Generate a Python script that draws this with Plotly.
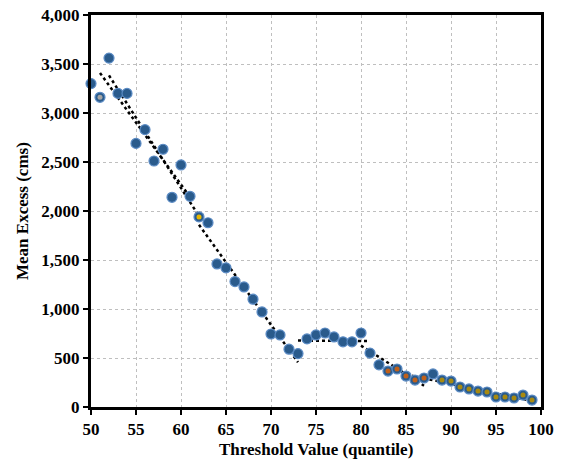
import numpy as np
import plotly.graph_objects as go

# Data
threshold = list(range(50, 100))
mean_excess = [3300, 3160, 3560, 3200, 3200, 2690, 2830, 2510, 2630, 2140,
               2470, 2150, 1940, 1880, 1460, 1420, 1280, 1225, 1100, 970,
               745, 735, 590, 545, 695, 735, 755, 715, 665, 665,
               755, 550, 430, 367, 388, 316, 275, 296, 337, 275,
               265, 204, 184, 163, 153, 102, 102, 92, 122, 71]

# inner marker colour groups (overlay series)
inner_groups = {
    "gray": [51],
    "yellow": [62],
    "orange": [83, 84, 85, 86, 87],
    "olive": [89, 90, 91, 92, 93, 94, 95, 96, 97, 98, 99],
}
inner_colors = {"gray": "#A6A6A6", "yellow": "#E8B800", "orange": "#C0601A", "olive": "#A88A10"}

# ranges over which linear trendlines are fitted
trend_ranges = [(51, 61), (52, 62), (62, 73), (73, 81), (80, 87), (85, 99)]

x_ticks = list(range(50, 101, 5))
y_ticks = list(range(0, 4001, 500))
x_title = "Threshold Value (quantile)"
y_title = "Mean Excess (cms)"

fig = go.Figure()

xa = np.array(threshold)
ya = np.array(mean_excess)
for lo, hi in trend_ranges:
    m = (xa >= lo) & (xa <= hi)
    k, b = np.polyfit(xa[m], ya[m], 1)
    xs = np.array([lo, hi])
    fig.add_trace(go.Scatter(x=xs, y=k * xs + b, mode="lines",
                             line=dict(color="black", width=2.5, dash="dot"),
                             showlegend=False, hoverinfo="skip"))

fig.add_trace(go.Scatter(x=threshold, y=mean_excess, mode="markers",
                         marker=dict(size=10, color="#2A5B8C",
                                     line=dict(color="#5B8BC4", width=1.2)),
                         cliponaxis=False, showlegend=False))

lookup = dict(zip(threshold, mean_excess))
for g, xs in inner_groups.items():
    fig.add_trace(go.Scatter(x=xs, y=[lookup[v] for v in xs], mode="markers",
                             marker=dict(size=5, color=inner_colors[g], line=dict(width=0)),
                             cliponaxis=False, showlegend=False))

font_b = dict(family="Liberation Serif", size=17, color="black")
fig.update_layout(
    width=564, height=461,
    margin=dict(l=91, r=23, t=15, b=54, autoexpand=False),
    paper_bgcolor="white", plot_bgcolor="white",
    font=font_b,
    xaxis=dict(range=[50, 100], tickvals=x_ticks, ticktext=[f"<b>{v}</b>" for v in x_ticks],
               showgrid=True, gridcolor="#BFBFBF", griddash="dot", gridwidth=1,
               showline=True, linecolor="black", linewidth=3, mirror=True,
               ticks="outside", ticklen=5, tickwidth=2, tickcolor="black",
               zeroline=False, automargin=False, ticklabeloverflow="allow"),
    yaxis=dict(range=[0, 4000], tickvals=y_ticks, ticktext=[f"<b>{v:,}</b>" for v in y_ticks],
               showgrid=True, gridcolor="#BFBFBF", griddash="dot", gridwidth=1,
               showline=True, linecolor="black", linewidth=3, mirror=True,
               ticks="outside", ticklen=5, tickwidth=2, tickcolor="black",
               zeroline=False, automargin=False, ticklabeloverflow="allow"),
    annotations=[
        dict(text=f"<b>{x_title}</b>", xref="paper", yref="paper", x=0.5, y=0,
             yshift=-42, showarrow=False, font=font_b, xanchor="center", yanchor="middle"),
        dict(text=f"<b>{y_title}</b>", xref="paper", yref="paper", x=0, y=0.5,
             xshift=-69, showarrow=False, font=font_b, textangle=-90,
             xanchor="center", yanchor="middle"),
    ],
)

fig.write_html("out.html", config={"displayModeBar": False},
               post_script="document.body.style.margin='0';")
